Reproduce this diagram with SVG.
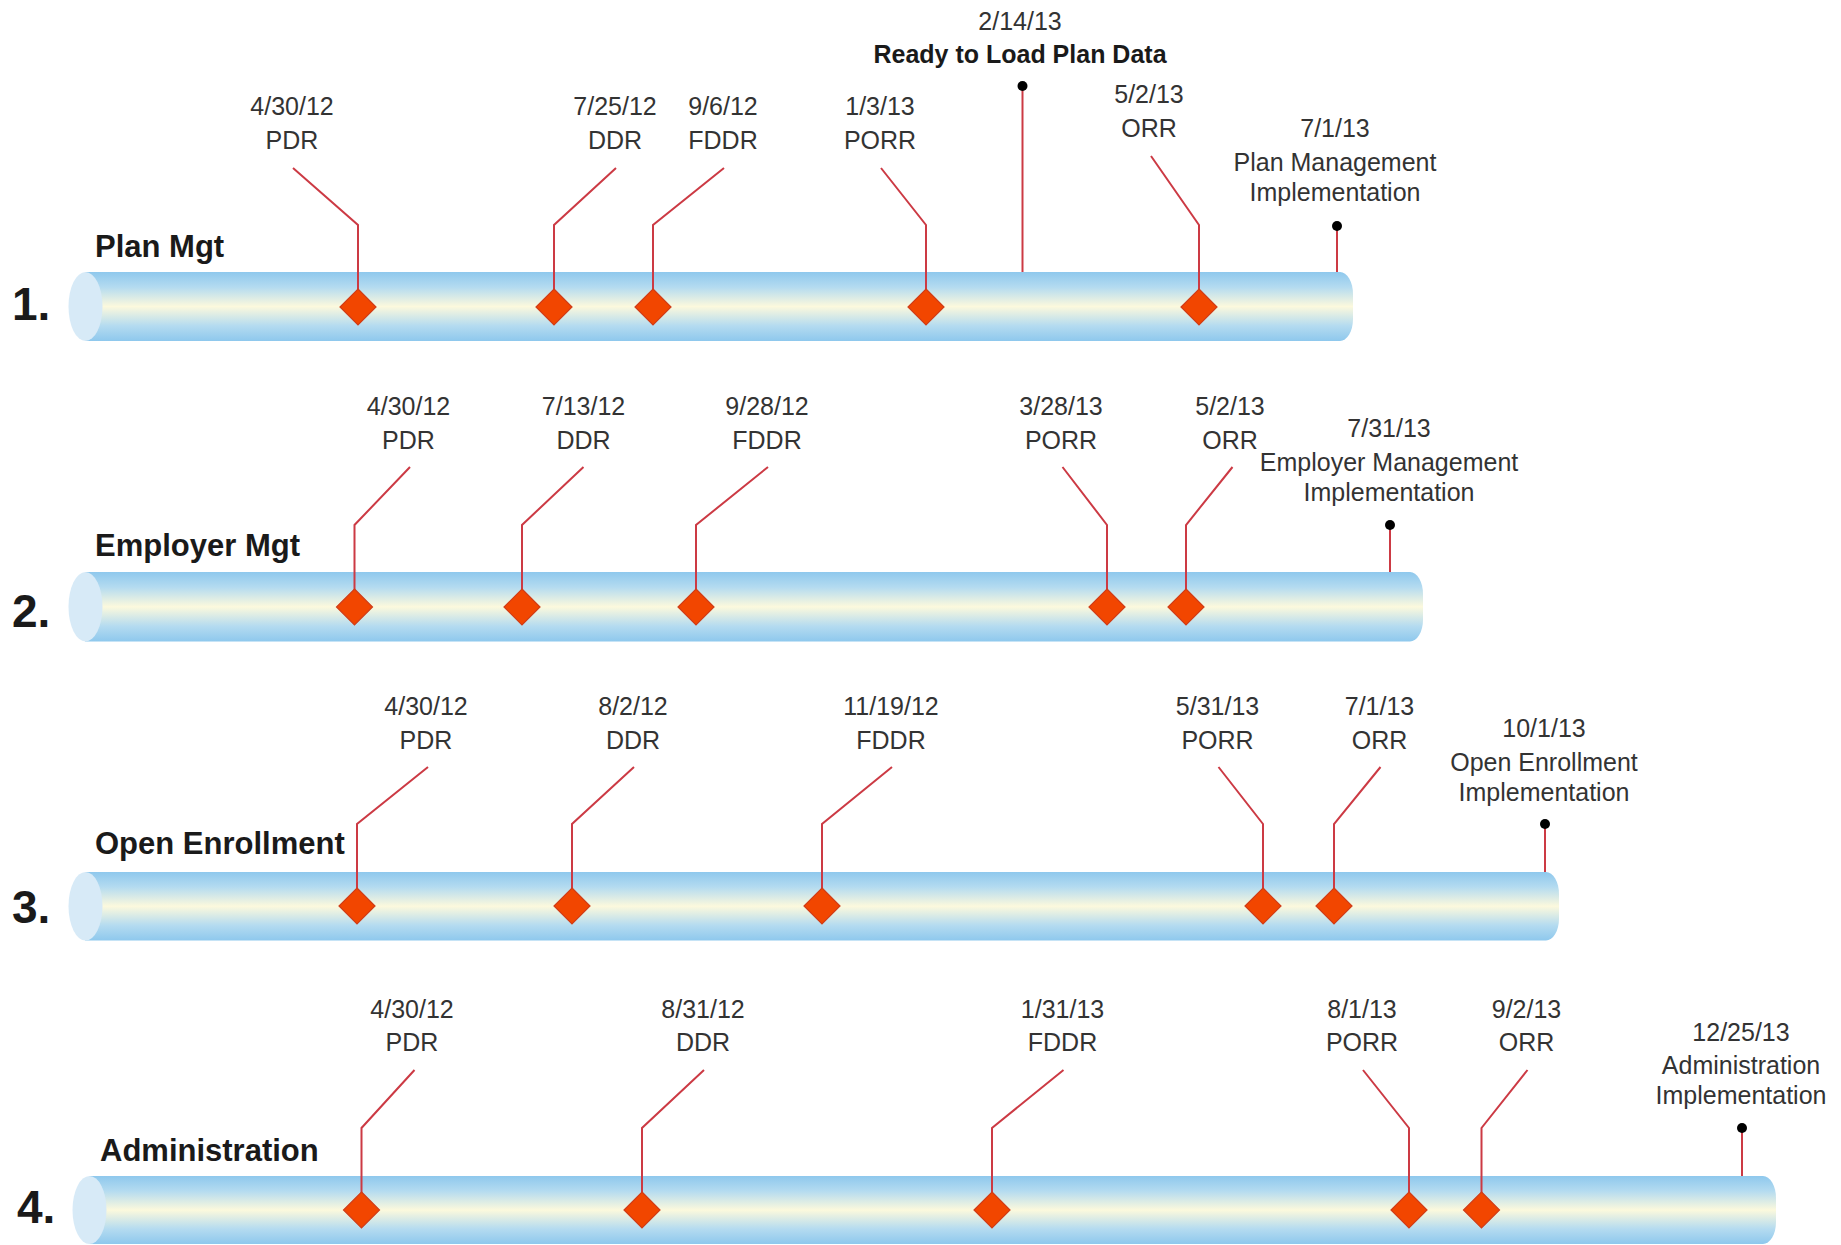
<svg xmlns="http://www.w3.org/2000/svg" width="1841" height="1245" viewBox="0 0 1841 1245">
<defs>
<linearGradient id="tubeGrad" x1="0" y1="0" x2="0" y2="1">
<stop offset="0" stop-color="#8ec8ed"/>
<stop offset="0.22" stop-color="#b4dbf0"/>
<stop offset="0.5" stop-color="#fcf9dd"/>
<stop offset="0.78" stop-color="#b4dbf0"/>
<stop offset="1" stop-color="#8ec8ed"/>
</linearGradient>
<marker id="dot" viewBox="-6 -6 12 12" markerWidth="12" markerHeight="12" markerUnits="userSpaceOnUse" refX="0" refY="0">
<circle r="5" fill="#000"/>
</marker>
</defs>
<style>
.tube{fill:url(#tubeGrad);}
.cap{fill:#d7eaf7;}
.dia{fill:#f24600;stroke:#d03c18;stroke-width:1.2;}
.lead{fill:none;stroke:#cc3a44;stroke-width:2;}
.lbl{font-family:"Liberation Sans",Arial,sans-serif;font-size:25px;fill:#333;text-anchor:middle;}
.blbl{font-family:"Liberation Sans",Arial,sans-serif;font-size:25px;font-weight:bold;fill:#1a1a1a;text-anchor:middle;}
.head{font-family:"Liberation Sans",Arial,sans-serif;font-size:31px;font-weight:bold;fill:#1a1a1a;}
.num{font-family:"Liberation Sans",Arial,sans-serif;font-size:46px;font-weight:bold;fill:#1a1a1a;}
</style>

<!-- Tubes -->
<g id="tube1">
<path class="tube" d="M85,272 H1340 A13,22 0 0 1 1353,294 V319 A13,22 0 0 1 1340,341 H85 Z"/>
<ellipse class="cap" cx="85.5" cy="306.5" rx="17" ry="34.5"/>
<text class="num" x="12" y="320">1.</text>
<text class="head" x="95" y="257">Plan Mgt</text>
</g>
<g id="tube2">
<path class="tube" d="M85,572 H1410 A13,22 0 0 1 1423,594 V619.5 A13,22 0 0 1 1410,641.5 H85 Z"/>
<ellipse class="cap" cx="85.5" cy="606.7" rx="17" ry="34.7"/>
<text class="num" x="12" y="627">2.</text>
<text class="head" x="95" y="556">Employer Mgt</text>
</g>
<g id="tube3">
<path class="tube" d="M85,872 H1546 A13,22 0 0 1 1559,894 V918.5 A13,22 0 0 1 1546,940.5 H85 Z"/>
<ellipse class="cap" cx="85.5" cy="906.2" rx="17" ry="34.3"/>
<text class="num" x="12" y="923">3.</text>
<text class="head" x="95" y="854">Open Enrollment</text>
</g>
<g id="tube4">
<path class="tube" d="M89,1176 H1763 A13,22 0 0 1 1776,1198 V1222 A13,22 0 0 1 1763,1244 H89 Z"/>
<ellipse class="cap" cx="89.5" cy="1210" rx="17" ry="34"/>
<text class="num" x="17" y="1223">4.</text>
<text class="head" x="100" y="1161">Administration</text>
</g>

<!-- Connectors (leader lines) -->
<g id="connectors">
<polyline class="lead" points="358,307 358,225 293,168"/>
<polyline class="lead" points="554,307 554,225 616,168"/>
<polyline class="lead" points="653,307 653,225 724,168"/>
<polyline class="lead" points="926,307 926,225 881,168"/>
<polyline class="lead" points="1199,307 1199,225 1151,156"/>
<line class="lead" x1="1022.5" y1="86" x2="1022.5" y2="272" marker-start="url(#dot)"/>
<line class="lead" x1="1337" y1="226" x2="1337" y2="272" marker-start="url(#dot)"/>
<polyline class="lead" points="354.5,607 354.5,525 410,467"/>
<polyline class="lead" points="522,607 522,525 583.5,467"/>
<polyline class="lead" points="696,607 696,525 768,467"/>
<polyline class="lead" points="1107,607 1107,525 1062.5,467"/>
<polyline class="lead" points="1186,607 1186,525 1232.5,467"/>
<line class="lead" x1="1390" y1="525" x2="1390" y2="572" marker-start="url(#dot)"/>
<polyline class="lead" points="357,906 357,824 428,767"/>
<polyline class="lead" points="572,906 572,824 634,767"/>
<polyline class="lead" points="822,906 822,824 892,767"/>
<polyline class="lead" points="1263,906 1263,824 1218.5,767"/>
<polyline class="lead" points="1334,906 1334,824 1380.5,767"/>
<line class="lead" x1="1545" y1="824" x2="1545" y2="872" marker-start="url(#dot)"/>
<polyline class="lead" points="361.5,1210 361.5,1128 414.5,1070"/>
<polyline class="lead" points="642,1210 642,1128 704,1070"/>
<polyline class="lead" points="992,1210 992,1128 1063.5,1070"/>
<polyline class="lead" points="1409,1210 1409,1128 1363,1070"/>
<polyline class="lead" points="1481.5,1210 1481.5,1128 1527.5,1070"/>
<line class="lead" x1="1742" y1="1128" x2="1742" y2="1176" marker-start="url(#dot)"/>
</g>

<!-- Milestone nodes -->
<g id="row1-pdr"><path class="dia" d="M358,289 L376,307 L358,325 L340,307 Z"/><text class="lbl" x="292" y="115">4/30/12</text><text class="lbl" x="292" y="149">PDR</text></g>
<g id="row1-ddr"><path class="dia" d="M554,289 L572,307 L554,325 L536,307 Z"/><text class="lbl" x="615" y="115">7/25/12</text><text class="lbl" x="615" y="149">DDR</text></g>
<g id="row1-fddr"><path class="dia" d="M653,289 L671,307 L653,325 L635,307 Z"/><text class="lbl" x="723" y="115">9/6/12</text><text class="lbl" x="723" y="149">FDDR</text></g>
<g id="row1-porr"><path class="dia" d="M926,289 L944,307 L926,325 L908,307 Z"/><text class="lbl" x="880" y="115">1/3/13</text><text class="lbl" x="880" y="149">PORR</text></g>
<g id="row1-orr"><path class="dia" d="M1199,289 L1217,307 L1199,325 L1181,307 Z"/><text class="lbl" x="1149" y="103">5/2/13</text><text class="lbl" x="1149" y="137">ORR</text></g>
<g id="row1-ready"><text class="lbl" x="1020" y="30">2/14/13</text><text class="blbl" x="1020" y="63">Ready to Load Plan Data</text></g>
<g id="row1-impl"><text class="lbl" x="1335" y="137">7/1/13</text><text class="lbl" x="1335" y="171">Plan Management</text><text class="lbl" x="1335" y="201">Implementation</text></g>

<g id="row2-pdr"><path class="dia" d="M354.5,589 L372.5,607 L354.5,625 L336.5,607 Z"/><text class="lbl" x="408.5" y="415">4/30/12</text><text class="lbl" x="408.5" y="449">PDR</text></g>
<g id="row2-ddr"><path class="dia" d="M522,589 L540,607 L522,625 L504,607 Z"/><text class="lbl" x="583.5" y="415">7/13/12</text><text class="lbl" x="583.5" y="449">DDR</text></g>
<g id="row2-fddr"><path class="dia" d="M696,589 L714,607 L696,625 L678,607 Z"/><text class="lbl" x="767" y="415">9/28/12</text><text class="lbl" x="767" y="449">FDDR</text></g>
<g id="row2-porr"><path class="dia" d="M1107,589 L1125,607 L1107,625 L1089,607 Z"/><text class="lbl" x="1061" y="415">3/28/13</text><text class="lbl" x="1061" y="449">PORR</text></g>
<g id="row2-orr"><path class="dia" d="M1186,589 L1204,607 L1186,625 L1168,607 Z"/><text class="lbl" x="1230" y="415">5/2/13</text><text class="lbl" x="1230" y="449">ORR</text></g>
<g id="row2-impl"><text class="lbl" x="1389" y="437">7/31/13</text><text class="lbl" x="1389" y="471">Employer Management</text><text class="lbl" x="1389" y="501">Implementation</text></g>

<g id="row3-pdr"><path class="dia" d="M357,888 L375,906 L357,924 L339,906 Z"/><text class="lbl" x="426" y="715">4/30/12</text><text class="lbl" x="426" y="749">PDR</text></g>
<g id="row3-ddr"><path class="dia" d="M572,888 L590,906 L572,924 L554,906 Z"/><text class="lbl" x="633" y="715">8/2/12</text><text class="lbl" x="633" y="749">DDR</text></g>
<g id="row3-fddr"><path class="dia" d="M822,888 L840,906 L822,924 L804,906 Z"/><text class="lbl" x="891" y="715">11/19/12</text><text class="lbl" x="891" y="749">FDDR</text></g>
<g id="row3-porr"><path class="dia" d="M1263,888 L1281,906 L1263,924 L1245,906 Z"/><text class="lbl" x="1217.5" y="715">5/31/13</text><text class="lbl" x="1217.5" y="749">PORR</text></g>
<g id="row3-orr"><path class="dia" d="M1334,888 L1352,906 L1334,924 L1316,906 Z"/><text class="lbl" x="1379.5" y="715">7/1/13</text><text class="lbl" x="1379.5" y="749">ORR</text></g>
<g id="row3-impl"><text class="lbl" x="1544" y="737">10/1/13</text><text class="lbl" x="1544" y="771">Open Enrollment</text><text class="lbl" x="1544" y="801">Implementation</text></g>

<g id="row4-pdr"><path class="dia" d="M361.5,1192 L379.5,1210 L361.5,1228 L343.5,1210 Z"/><text class="lbl" x="412" y="1018">4/30/12</text><text class="lbl" x="412" y="1051">PDR</text></g>
<g id="row4-ddr"><path class="dia" d="M642,1192 L660,1210 L642,1228 L624,1210 Z"/><text class="lbl" x="703" y="1018">8/31/12</text><text class="lbl" x="703" y="1051">DDR</text></g>
<g id="row4-fddr"><path class="dia" d="M992,1192 L1010,1210 L992,1228 L974,1210 Z"/><text class="lbl" x="1062.5" y="1018">1/31/13</text><text class="lbl" x="1062.5" y="1051">FDDR</text></g>
<g id="row4-porr"><path class="dia" d="M1409,1192 L1427,1210 L1409,1228 L1391,1210 Z"/><text class="lbl" x="1362" y="1018">8/1/13</text><text class="lbl" x="1362" y="1051">PORR</text></g>
<g id="row4-orr"><path class="dia" d="M1481.5,1192 L1499.5,1210 L1481.5,1228 L1463.5,1210 Z"/><text class="lbl" x="1526.5" y="1018">9/2/13</text><text class="lbl" x="1526.5" y="1051">ORR</text></g>
<g id="row4-impl"><text class="lbl" x="1741" y="1041">12/25/13</text><text class="lbl" x="1741" y="1074">Administration</text><text class="lbl" x="1741" y="1104">Implementation</text></g>
</svg>
